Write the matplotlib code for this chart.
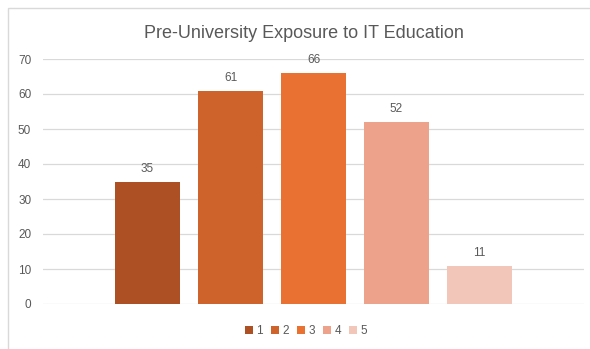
import matplotlib.pyplot as plt
from matplotlib.patches import Rectangle, Patch

# Survey responses by rating level
levels = ["1", "2", "3", "4", "5"]
counts = [35, 61, 66, 52, 11]
colors = ["#AD5124", "#CF632C", "#E97132", "#EDA28B", "#F3C6BA"]

plt.rcParams['font.family'] = ['Liberation Sans', 'DejaVu Sans']
text_grey = "#595959"
grid_grey = "#D9D9D9"

fig = plt.figure(figsize=(5.9, 3.49), dpi=100)
W, H = 590, 349

# chart frame (runs off the right and bottom edges)
fig.patches.append(Rectangle((8 / W, -0.1), 1.2, 1 - 8 / H + 0.1,
                             transform=fig.transFigure, fill=False,
                             edgecolor=grid_grey, linewidth=1.0))

ax = fig.add_axes([43 / W, 1 - 304 / H, (584 - 43) / W, (304 - 59) / H])

x = list(range(len(levels)))
bars = ax.bar(x, counts, width=0.78, color=colors, zorder=2)
for xi, v in zip(x, counts):
    ax.annotate(str(v), (xi, v), xytext=(0, 5), textcoords="offset points",
                ha="center", va="bottom", fontsize=8.5, color=text_grey)

ax.set_xlim(-1.26, 5.26)
ax.set_ylim(0, 70)
ax.set_yticks(range(0, 71, 10))
ax.set_xticks([])
ax.grid(axis="y", color=grid_grey, linewidth=0.9, zorder=0)
for s in ax.spines.values():
    s.set_visible(False)
ax.tick_params(axis="y", length=0, pad=8.5, labelsize=8.5, labelcolor=text_grey)

fig.text(304 / W, 1 - 33 / H, "Pre-University Exposure to IT Education",
         ha="center", va="center", fontsize=13, color=text_grey)

handles = [Patch(facecolor=c, edgecolor="none") for c in colors]
fig.legend(handles, levels, loc="center", bbox_to_anchor=(306 / W, 1 - 331 / H),
           ncol=5, frameon=False, fontsize=8.5, labelcolor=text_grey,
           handlelength=0.7, handleheight=0.7, handletextpad=0.25,
           columnspacing=0.7)

fig.savefig("out.png", dpi=100)
